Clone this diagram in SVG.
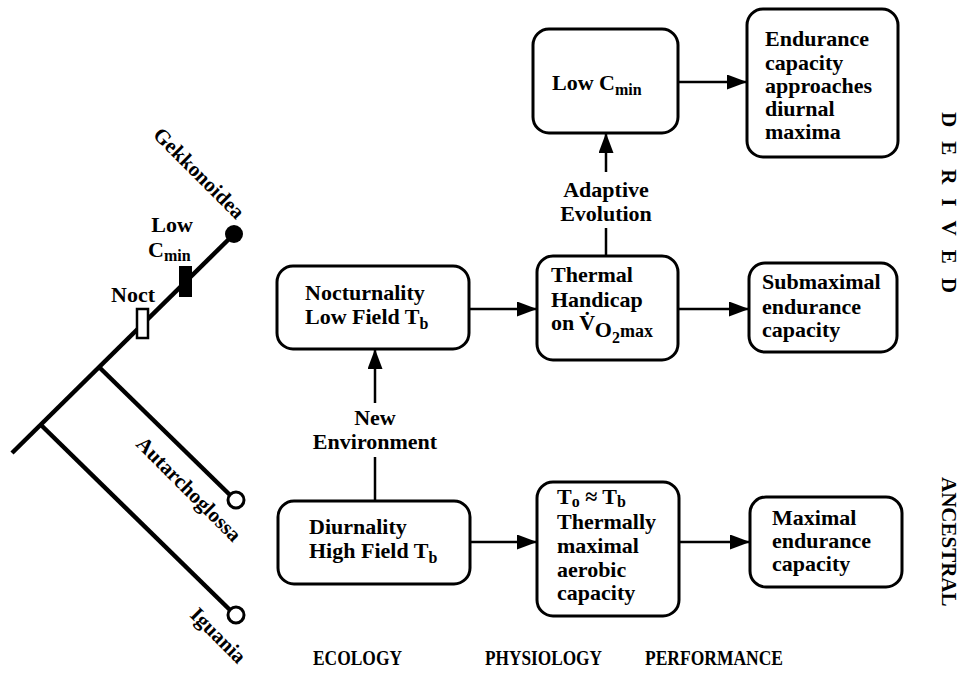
<svg xmlns="http://www.w3.org/2000/svg" width="962" height="678" viewBox="0 0 962 678" font-family="'Liberation Serif', 'Times New Roman', serif" font-weight="bold">
<defs>
<style>
text{font-family:"Liberation Serif","Times New Roman",serif;font-weight:bold;font-size:22px;fill:#000}
.box{fill:#fff;stroke:#000;stroke-width:3}
.con{stroke:#000;stroke-width:2.5;fill:none}
.clad{stroke:#000;stroke-width:4.5;fill:none;stroke-linecap:butt}
.sub{font-size:16px}
.col{font-size:21px}
.side{font-size:21px}
.tax{font-size:21px}
.mid{text-anchor:middle}
</style>
<marker id="ah" viewBox="0 0 10 10" refX="10" refY="5" markerWidth="20" markerHeight="15" markerUnits="userSpaceOnUse" orient="auto" preserveAspectRatio="none">
<path d="M0,0 L10,5 L0,10 Z" fill="#000"/>
</marker>
</defs>
<rect width="962" height="678" fill="#fff"/>

<g id="cladogram">
<line class="clad" x1="12" y1="453" x2="230" y2="238"/>
<line class="clad" x1="99" y1="367" x2="230" y2="495"/>
<line class="clad" x1="41" y1="425" x2="230" y2="610"/>
<circle cx="234" cy="234" r="9" fill="#000"/>
<circle cx="236" cy="500" r="8" fill="#fff" stroke="#000" stroke-width="3"/>
<circle cx="236" cy="615" r="8" fill="#fff" stroke="#000" stroke-width="3"/>
<rect x="179" y="266" width="13" height="31" fill="#000"/>
<rect x="137" y="309" width="11" height="29" fill="#fff" stroke="#000" stroke-width="2.5"/>
<text x="172" y="232" class="mid">Low</text>
<text x="148" y="257">C<tspan class="sub" dy="4">min</tspan></text>
<text x="111" y="302">Noct</text>
<text class="tax" transform="translate(152,136) rotate(45)">Gekkonoidea</text>
<text class="tax" transform="translate(135,445) rotate(45)">Autarchoglossa</text>
<text class="tax" transform="translate(189,616) rotate(45)">Iguania</text>
</g>

<g id="connectors">
<line class="con" x1="469" y1="309" x2="537" y2="309" marker-end="url(#ah)"/>
<line class="con" x1="470" y1="542" x2="537" y2="542" marker-end="url(#ah)"/>
<line class="con" x1="678" y1="309" x2="749" y2="309" marker-end="url(#ah)"/>
<line class="con" x1="679" y1="542" x2="750" y2="542" marker-end="url(#ah)"/>
<line class="con" x1="678" y1="82" x2="747" y2="82" marker-end="url(#ah)"/>
<line class="con" x1="606" y1="256" x2="606" y2="228"/>
<line class="con" x1="606" y1="172" x2="606" y2="133" marker-end="url(#ah)"/>
<line class="con" x1="375" y1="501" x2="375" y2="457"/>
<line class="con" x1="375" y1="403" x2="375" y2="349" marker-end="url(#ah)"/>
<text x="606" y="197" class="mid">Adaptive</text>
<text x="606" y="221" class="mid">Evolution</text>
<text x="375" y="425" class="mid">New</text>
<text x="375" y="449" class="mid">Environment</text>
</g>

<g id="nocturnality">
<rect class="box" x="277" y="266" width="192" height="83" rx="16"/>
<text x="305" y="300">Nocturnality</text>
<text x="305" y="324">Low Field T<tspan class="sub" dy="5">b</tspan></text>
</g>

<g id="diurnality">
<rect class="box" x="278" y="501" width="192" height="83" rx="16"/>
<text x="309" y="534">Diurnality</text>
<text x="309" y="558">High Field T<tspan class="sub" dy="5">b</tspan></text>
</g>

<g id="thermal-handicap">
<rect class="box" x="537" y="256" width="141" height="104" rx="16"/>
<text x="551" y="282">Thermal</text>
<text x="551" y="307">Handicap</text>
<text x="551" y="330">on V&#x307;<tspan dy="7">O</tspan><tspan class="sub" dy="6">2</tspan><tspan font-size="18" dy="-6">max</tspan></text>
</g>

<g id="thermally-maximal">
<rect class="box" x="537" y="482" width="142" height="134" rx="16"/>
<text x="557" y="504">T<tspan class="sub" dy="3">o</tspan><tspan dy="-3"> ≈ T</tspan><tspan class="sub" dy="3">b</tspan></text>
<text x="557" y="529">Thermally</text>
<text x="557" y="553">maximal</text>
<text x="557" y="577">aerobic</text>
<text x="557" y="600">capacity</text>
</g>

<g id="low-cmin">
<rect class="box" x="533" y="29" width="145" height="104" rx="16"/>
<text x="552" y="90">Low C<tspan class="sub" dy="5">min</tspan></text>
</g>

<g id="endurance-approaches">
<rect class="box" x="747" y="9" width="151" height="148" rx="16"/>
<text x="765" y="46">Endurance</text>
<text x="765" y="70">capacity</text>
<text x="765" y="93">approaches</text>
<text x="765" y="116">diurnal</text>
<text x="765" y="139">maxima</text>
</g>

<g id="submaximal">
<rect class="box" x="749" y="263" width="148" height="89" rx="16"/>
<text x="762" y="289">Submaximal</text>
<text x="762" y="314">endurance</text>
<text x="762" y="337">capacity</text>
</g>

<g id="maximal">
<rect class="box" x="750" y="497" width="152" height="90" rx="16"/>
<text x="772" y="525">Maximal</text>
<text x="772" y="548">endurance</text>
<text x="772" y="571">capacity</text>
</g>

<g id="labels">
<text class="col" x="313" y="665" textLength="89" lengthAdjust="spacingAndGlyphs">ECOLOGY</text>
<text class="col" x="485" y="665" textLength="117" lengthAdjust="spacingAndGlyphs">PHYSIOLOGY</text>
<text class="col" x="645" y="665" textLength="138" lengthAdjust="spacingAndGlyphs">PERFORMANCE</text>
<text class="side" transform="translate(942,112) rotate(90)" letter-spacing="14">DERIVED</text>
<text class="side" transform="translate(942,477) rotate(90)">ANCESTRAL</text>
</g>
</svg>
